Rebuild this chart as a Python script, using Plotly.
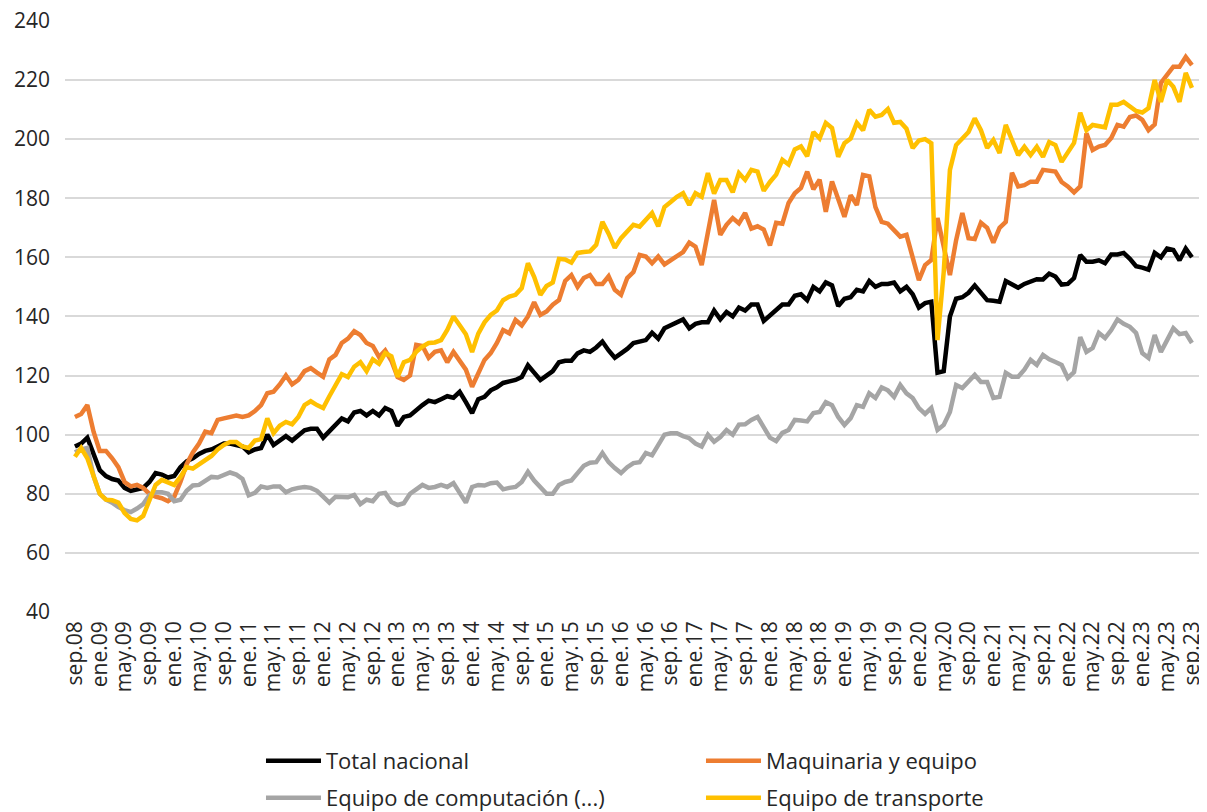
import plotly.graph_objects as go

# Month categories (sep.08 .. sep.23)
month_abbr = ["ene", "feb", "mar", "abr", "may", "jun", "jul", "ago", "sep", "oct", "nov", "dic"]
months = []
y, m = 2008, 8
while (y, m) <= (2023, 8):
    months.append(f"{month_abbr[m]}.{str(y)[2:]}")
    m += 1
    if m == 12:
        m = 0
        y += 1

total_nacional = [
    96, 97, 99, 93, 88, 86, 85, 84.5, 82, 81, 81.5, 82, 84, 87, 86.5, 85.5,
    86, 89, 91, 92, 93.5, 94.5, 95, 96, 97, 97, 96.5, 96, 94, 95, 95.5, 100,
    96.5, 98, 99.5, 98, 100, 101.5, 102, 102, 99, 101, 103, 105.5, 104.5, 107.5, 108, 106.5,
    108, 106.5, 109, 108, 103, 106, 106.5, 108.5, 110, 111.5, 111, 112, 113, 112.5, 114.5, 111,
    107.3, 112, 112.8, 115, 116, 117.5, 118, 118.5, 119.5, 123.5, 121, 118.5, 120, 121.5, 124.5, 125,
    125, 127.5, 128.5, 128, 129.5, 131.5, 128.5, 126, 127.5, 129, 131, 131.5, 132, 134.5, 132.5, 136,
    137, 138, 139, 136, 137.5, 138, 138, 142, 139, 141.5, 140, 143, 142, 144, 144, 138.5,
    140.5, 142, 144, 144, 147, 147.5, 145.5, 150, 148.5, 151.5, 150.5, 143.5, 146, 146.5, 149, 148.5,
    152, 150, 151, 151, 151.5, 148.5, 150, 147.5, 143, 144.5, 145, 121, 121.5, 140, 146, 146.5,
    148, 150.5, 148, 145.5, 145.3, 145, 152, 151, 149.7, 151, 152, 152.6, 152.5, 154.5, 153.5, 150.8,
    151, 153, 160.8, 158.5, 158.5, 159, 158, 161, 161, 161.5, 159.5, 157, 156.5, 155.8, 161.5, 160,
    163, 162.5, 159, 163, 160,
]

maquinaria = [
    106, 107, 110, 101, 94.5, 94.5, 92, 89, 84, 82.5, 83, 82, 80, 79, 78.5, 77.5,
    79, 84, 90, 94, 97, 101, 100.5, 105, 105.5, 106, 106.5, 106, 106.5, 108, 110, 114,
    114.5, 117, 120, 117, 118.5, 121.5, 122.5, 121, 119.6, 125.5, 127, 131, 132.5, 135, 133.7, 131,
    130, 126.3, 128.5, 125, 119.5, 118.5, 120, 130.4, 130, 126, 128, 128.5, 124.5, 128, 125, 122,
    116.2, 120.4, 125.3, 127.6, 131, 135.4, 134.3, 138.8, 137, 140, 144.8, 140.5, 141.7, 144, 145.5, 152,
    154, 150, 153, 154, 151, 151, 153.6, 149, 147.3, 153, 155, 160.8, 160.3, 158, 160.3, 157.6,
    159, 160.8, 161.8, 165, 163.6, 157.4, 168, 179.4, 167.6, 171, 173.3, 171.5, 175, 169.7, 170.5, 169.4,
    164, 171.7, 171.4, 178.4, 181.7, 183.5, 189, 183, 186.3, 175.4, 185.7, 179.4, 173.7, 181, 177.7, 187.9,
    187.4, 177, 172, 171.4, 169.3, 167, 167.6, 160, 152.3, 157.4, 159.1, 173.3, 163, 154, 165.8, 175,
    166.5, 166.2, 171.7, 170, 165, 170, 172, 188.6, 184, 184.4, 185.6, 185.6, 189.6, 189.3, 189, 185.5,
    184, 182, 184, 202, 196.3, 197.5, 198, 200.4, 204.8, 204.2, 207.5, 208, 206.5, 203, 205, 219,
    221.7, 224.5, 224.5, 227.8, 225, 223,
]
maquinaria = maquinaria[:len(months)]

computacion = [
    94, 95, 95.5, 86, 80, 78, 77, 75.5, 74.5, 73.8, 75, 76.5, 79.5, 80.5, 80.5, 80,
    77.5, 78, 81, 82.8, 83, 84.5, 85.7, 85.5, 86.5, 87.2, 86.5, 85, 79.5, 80.3, 82.5, 82,
    82.5, 82.5, 80.5, 81.5, 82, 82.3, 82, 81, 79, 77, 79, 79, 78.8, 79.6, 76.5, 78,
    77.5, 80, 80.3, 77.2, 76.2, 76.8, 80, 81.5, 83, 82, 82.3, 83, 82.3, 83.6, 80.5, 77,
    82.3, 83, 82.8, 83.6, 83.8, 81.5, 82, 82.3, 84, 87.4, 84.5, 82, 80, 80, 83, 84,
    84.5, 87, 89.5, 90.5, 90.7, 93.8, 90.7, 88.7, 87, 89, 90.4, 90.7, 93.8, 93, 96.5, 100,
    100.5, 100.5, 99.5, 98.8, 97, 96, 100, 97.6, 99.2, 101.6, 100, 103.4, 103.5, 105, 106, 102.3,
    99, 97.8, 100.6, 101.6, 105, 104.8, 104.5, 107.3, 107.7, 111, 110, 106, 103.3, 105.6, 110, 109.4,
    114, 112.4, 116, 115, 112.8, 116.8, 114, 112.4, 109, 107, 109, 101.6, 103.3, 107.7, 116.8, 115.8,
    117.8, 120.2, 117.8, 117.8, 112.4, 112.8, 120.9, 119.6, 119.6, 122, 125.3, 123.6, 127, 125.5, 124.6, 123.6,
    119.2, 121.2, 133, 128, 129.3, 134.4, 132.7, 135.4, 139, 137.5, 136.5, 134.4, 127.6, 126, 133.7, 128,
    132, 136, 134, 134.4, 131,
]

transporte = [
    92.5, 95.5, 92, 86, 80, 78, 77.8, 77, 73.5, 71.5, 71, 72.5, 78, 83, 84.7, 84,
    83, 85.7, 89, 88.5, 90, 91.5, 92.8, 95, 96.5, 97.5, 97.5, 96, 95.5, 98, 98.5, 105.5,
    100.5, 103, 104.3, 103.5, 106, 110, 111.3, 110, 109, 113, 117, 120.5, 119.5, 123, 124.5, 121.5,
    125.5, 124, 127.6, 126.5, 119.6, 124.5, 125.3, 128, 129.8, 131, 131.2, 132, 135.4, 140, 137, 134,
    128, 134.2, 138, 140.5, 142, 145.5, 146.7, 147.3, 149.6, 158, 153.4, 147.3, 150.3, 151.5, 159.5, 159.3,
    158.2, 161.5, 161.8, 162, 164.2, 172, 168, 163.2, 166.5, 169, 171, 170.4, 172.6, 175, 170.5, 177,
    178.7, 180.5, 181.7, 177.7, 181.7, 180.5, 188.5, 181.6, 186.2, 186.2, 182, 188.5, 186.2, 189.6, 189, 182.5,
    185.5, 188, 193, 191.4, 196.5, 197.5, 194.2, 202.4, 200.2, 205.5, 203.8, 194, 198.6, 200.2, 205.5, 203,
    209.9, 207.6, 208.2, 210.2, 205.5, 205.8, 203.5, 197, 199.5, 200, 198.6, 132, 155, 189.6, 198, 200,
    202.4, 207, 203, 197, 199.7, 195.3, 204.8, 199.7, 194.6, 197.4, 194.6, 197.4, 194, 199, 198, 192.3,
    195.5, 198.7, 208.9, 203, 204.8, 204.5, 204, 211.6, 211.6, 212.6, 211, 209.5, 209, 210.5, 220, 212.6,
    220, 217.7, 212.6, 222.4, 217.3,
]

y_ticks = [40, 60, 80, 100, 120, 140, 160, 180, 200, 220, 240]

series = [
    ("Total nacional", total_nacional, "#000000", "legend"),
    ("Maquinaria y equipo", maquinaria, "#ED7D31", "legend"),
    ("Equipo de computación (...)", computacion, "#A5A5A5", "legend2"),
    ("Equipo de transporte", transporte, "#FFC000", "legend2"),
]

tick_labels = months[::4]

fig = go.Figure()
for name, vals, color, leg in series:
    fig.add_trace(go.Scatter(
        x=months, y=vals, mode="lines", name=name, legend=leg,
        line=dict(color=color, width=4.5),
    ))

font_family = "Open Sans, Noto Sans, sans-serif"
legend_common = dict(
    orientation="h", xref="container", yref="container",
    x=0.211, xanchor="left", yanchor="middle",
    entrywidth=370, entrywidthmode="pixels",
    font=dict(size=22, color="#262626", family=font_family),
    itemwidth=55, bgcolor="rgba(0,0,0,0)",
)
fig.update_layout(
    width=1199, height=804,
    margin=dict(l=57, r=7, t=12, b=200, autoexpand=False),
    paper_bgcolor="white", plot_bgcolor="white",
    font=dict(family=font_family, color="#262626"),
    showlegend=True,
    legend=dict(legend_common, y=1 - 753 / 804),
    legend2=dict(legend_common, y=1 - 790 / 804),
    xaxis=dict(
        type="category", range=[-1.6, 181.3],
        tickmode="array", tickvals=tick_labels, ticktext=tick_labels,
        tickangle=-90, tickfont=dict(size=21, color="#262626"),
        showgrid=False, zeroline=False, showline=False, ticks="",
        ticklabelstandoff=4, ticklabeloverflow="allow",
    ),
    yaxis=dict(
        range=[40, 240.3], tickmode="array", tickvals=y_ticks,
        ticktext=[str(v) for v in y_ticks],
        showgrid=True, gridcolor="#D9D9D9", gridwidth=1.5,
        zeroline=False, showline=False, ticks="",
        tickfont=dict(size=21, color="#262626"),
        ticklabelstandoff=14, ticklabeloverflow="allow",
    ),
)

fig.write_html("out.html")
